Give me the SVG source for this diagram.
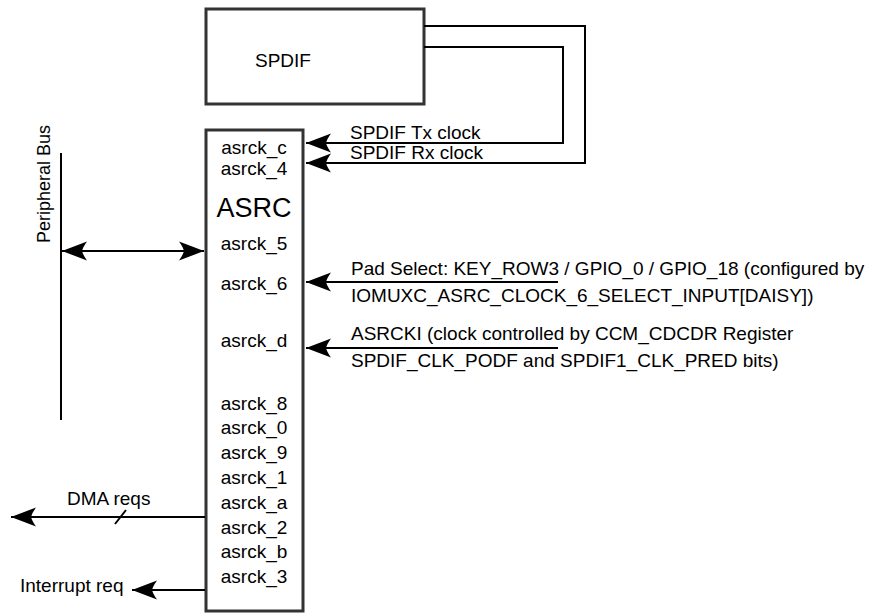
<svg xmlns="http://www.w3.org/2000/svg" width="872" height="615" viewBox="0 0 872 615">
<style>
text{font-family:"Liberation Sans",Arial,sans-serif;font-size:19px;fill:#000}
.box{fill:#fff;stroke:#333;stroke-width:3}
.ln{fill:none;stroke:#000;stroke-width:2}
.lbl{text-anchor:middle}
</style>
<defs>
<marker id="ah" markerUnits="userSpaceOnUse" markerWidth="28" markerHeight="22" viewBox="-28 -11 28 22" refX="0" refY="0" orient="auto-start-reverse">
<path d="M0,0 L-25,-9.5 Q-21,-4 -20,0 Q-21,4 -25,9.5 Z" fill="#000"/>
</marker>
</defs>
<g id="spdif">
<rect class="box" x="206" y="9" width="218" height="95"/>
<text x="255" y="67">SPDIF</text>
</g>
<g id="asrc">
<rect class="box" x="206" y="130" width="97" height="481"/>
<text x="254" y="217" class="lbl" style="font-size:27px">ASRC</text>
<text x="254" y="154" class="lbl">asrck_c</text>
<text x="254" y="175" class="lbl">asrck_4</text>
<text x="254" y="250" class="lbl">asrck_5</text>
<text x="254" y="290" class="lbl">asrck_6</text>
<text x="254" y="347" class="lbl">asrck_d</text>
<text x="254" y="410" class="lbl">asrck_8</text>
<text x="254" y="434" class="lbl">asrck_0</text>
<text x="254" y="459" class="lbl">asrck_9</text>
<text x="254" y="484" class="lbl">asrck_1</text>
<text x="254" y="509" class="lbl">asrck_a</text>
<text x="254" y="534" class="lbl">asrck_2</text>
<text x="254" y="558" class="lbl">asrck_b</text>
<text x="254" y="583" class="lbl">asrck_3</text>
</g>
<g id="peripheral-bus">
<line class="ln" x1="61" y1="153" x2="61" y2="420"/>
<text transform="translate(50,243) rotate(-90)" style="font-size:18px">Peripheral Bus</text>
</g>
<g id="connectors">
<path class="ln" d="M424,47 H563 V143 H306" marker-end="url(#ah)"/>
<path class="ln" d="M424,26 H585 V163 H306" marker-end="url(#ah)"/>
<text x="350" y="139">SPDIF Tx clock</text>
<text x="350" y="159">SPDIF Rx clock</text>
<line class="ln" x1="62" y1="251" x2="204" y2="251" marker-start="url(#ah)" marker-end="url(#ah)"/>
<line class="ln" x1="558" y1="282" x2="306" y2="282" marker-end="url(#ah)"/>
<text x="351" y="275">Pad Select: KEY_ROW3 / GPIO_0 / GPIO_18 (configured by</text>
<text x="351" y="302">IOMUXC_ASRC_CLOCK_6_SELECT_INPUT[DAISY])</text>
<line class="ln" x1="558" y1="348" x2="306" y2="348" marker-end="url(#ah)"/>
<text x="351" y="340">ASRCKI (clock controlled by CCM_CDCDR Register</text>
<text x="351" y="367">SPDIF_CLK_PODF and SPDIF1_CLK_PRED bits)</text>
<line class="ln" x1="205" y1="517" x2="11" y2="517" marker-end="url(#ah)"/>
<line class="ln" x1="115" y1="524" x2="126" y2="510"/>
<text x="67" y="505">DMA reqs</text>
<line class="ln" x1="205" y1="590" x2="132" y2="590" marker-end="url(#ah)"/>
<text x="20" y="592">Interrupt req</text>
</g>
</svg>
